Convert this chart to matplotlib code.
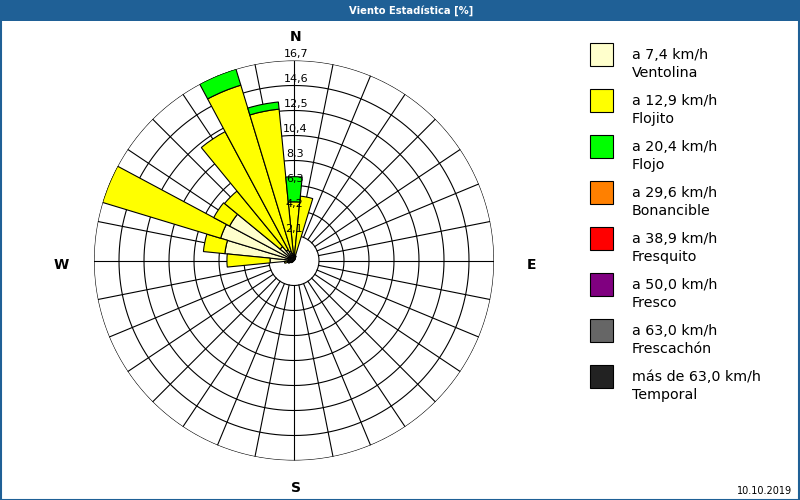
import numpy as np
import matplotlib
matplotlib.use("Agg")
import matplotlib.pyplot as plt
from matplotlib.patches import Rectangle

# ---------------- data (percent of time, 32 directions, N clockwise) -------------
directions = ['N', 'NbE', 'NNE', 'NEbN', 'NE', 'NEbE', 'ENE', 'EbN',
              'E', 'EbS', 'ESE', 'SEbE', 'SE', 'SEbS', 'SSE', 'SbE',
              'S', 'SbW', 'SSW', 'SWbS', 'SW', 'SWbW', 'WSW', 'WbS',
              'W', 'WbN', 'WNW', 'NWbW', 'NW', 'NWbN', 'NNW', 'NbW']
ventolina = [0.4, 0.3, 0.2, 0.1, 0.1, 0.0, 0.0, 0.0,
             0.0, 0.0, 0.0, 0.0, 0.0, 0.0, 0.0, 0.0,
             0.0, 0.0, 0.0, 0.0, 0.1, 0.2, 0.3, 0.5,
             2.0, 5.8, 6.4, 6.1, 1.5, 1.0, 0.8, 0.6]
flojito = [4.5, 5.1, 0.2, 0.1, 0.0, 0.0, 0.0, 0.0,
           0.0, 0.0, 0.0, 0.0, 0.0, 0.0, 0.0, 0.0,
           0.0, 0.0, 0.0, 0.0, 0.1, 0.1, 0.2, 0.3,
           3.6, 1.8, 10.3, 1.5, 6.0, 11.2, 14.5, 12.1]
flojo = [2.1, 0.0, 0.0, 0.0, 0.0, 0.0, 0.0, 0.0,
         0.0, 0.0, 0.0, 0.0, 0.0, 0.0, 0.0, 0.0,
         0.0, 0.0, 0.0, 0.0, 0.0, 0.0, 0.0, 0.0,
         0.0, 0.0, 0.0, 0.0, 0.0, 0.0, 1.4, 0.6]
series = [ventolina, flojito, flojo]

speed_labels = ['a 7,4 km/h', 'a 12,9 km/h', 'a 20,4 km/h', 'a 29,6 km/h',
                'a 38,9 km/h', 'a 50,0 km/h', 'a 63,0 km/h', 'más de 63,0 km/h']
class_names = ['Ventolina', 'Flojito', 'Flojo', 'Bonancible',
               'Fresquito', 'Fresco', 'Frescachón', 'Temporal']
class_colors = ['#FFFFCC', '#FFFF00', '#00FF00', '#FF8000',
                '#FF0000', '#800080', '#666666', '#222222']
ring_labels = ['2,1', '4,2', '6,3', '8,3', '10,4', '12,5', '14,6', '16,7']
r_max = 16.7
title = 'Viento Estadística [%]'
date_text = '10.10.2019'

# ---------------- figure ----------------
W, H = 800, 500
fig = plt.figure(figsize=(W / 100, H / 100), dpi=100)
fig.patch.set_facecolor('white')

def fx(px):
    return px / W

def fy(py):
    return 1 - py / H

# title bar and frame
fig.patches.append(Rectangle((0, fy(21)), 1, 21 / H, transform=fig.transFigure,
                             facecolor='#1f6096', edgecolor='none', zorder=0))
fig.patches.append(Rectangle((0.5 / W, 0.5 / H), 1 - 1.5 / W, 1 - 1.0 / H,
                             transform=fig.transFigure, facecolor='none',
                             edgecolor='#1f6096', lw=1.5, zorder=5))
fig.text(fx(411), fy(10.5), title, color='white', fontsize=7.2,
         fontweight='bold', ha='center', va='center', family='DejaVu Sans')

# polar axes: center (294, 260.5), radius 200 px
cx, cy, R = 294, 260.5, 200
ax = fig.add_axes([fx(cx - R), fy(cy + R), 2 * R / W, 2 * R / H],
                  projection='polar')
ax.set_theta_zero_location('N')
ax.set_theta_direction(-1)
ax.set_ylim(0, r_max)
ax.axis('off')

n = len(directions)
theta = np.arange(n) * 2 * np.pi / n
width = 2 * np.pi / n
step = r_max / len(ring_labels)
rings = step * np.arange(1, len(ring_labels) + 1)

# grid
tt = np.linspace(0, 2 * np.pi, 721)
for r in rings:
    ax.plot(tt, np.full_like(tt, r), color='black', lw=0.8, zorder=1)
for a in theta:
    ax.plot([a, a], [rings[0], r_max], color='black', lw=0.8, zorder=1)

# stacked bars
bottom = np.zeros(n)
for vals, col in zip(series, class_colors):
    vals = np.asarray(vals)
    mask = vals > 0
    ax.bar(theta[mask], vals[mask], width=width, bottom=bottom[mask],
           color=col, edgecolor='black', linewidth=0.8, zorder=3)
    bottom = bottom + vals

# ring labels along the N axis
for r, lab in zip(rings, ring_labels):
    ax.text(0.012, r + 0.55, lab, ha='center', va='center', fontsize=8,
            color='black', zorder=6)

# compass labels
fig.text(fx(296), fy(37), 'N', fontsize=10, fontweight='bold', ha='center', va='center')
fig.text(fx(531), fy(265), 'E', fontsize=10, fontweight='bold', ha='center', va='center')
fig.text(fx(296), fy(488), 'S', fontsize=10, fontweight='bold', ha='center', va='center')
fig.text(fx(61), fy(265), 'W', fontsize=10, fontweight='bold', ha='center', va='center')

# legend
for k, (sl, cn, col) in enumerate(zip(speed_labels, class_names, class_colors)):
    y0 = 43 + 46 * k
    fig.patches.append(Rectangle((fx(590), fy(y0 + 23)), 23 / W, 23 / H,
                                 transform=fig.transFigure, facecolor=col,
                                 edgecolor='black', lw=0.8, zorder=4))
    fig.text(fx(632), fy(y0 + 12), sl, fontsize=10.3, ha='left', va='center')
    fig.text(fx(632), fy(y0 + 30), cn, fontsize=10.3, ha='left', va='center')

fig.text(fx(792), fy(491), date_text, fontsize=7, ha='right', va='center')

fig.savefig('out.png', dpi=100)
